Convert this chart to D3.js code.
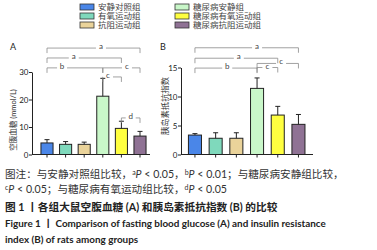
<!DOCTYPE html>
<html>
<head>
<meta charset="utf-8">
<script src="https://cdn.jsdelivr.net/npm/d3@7"></script>
<style>
body{margin:0;background:#fff;}
svg{display:block;font-family:Lato,"Noto Sans CJK SC",sans-serif;}
</style>
</head>
<body>
<svg id="chart" width="377" height="250"></svg>
<script>
// groups + colours
const groups = ["安静对照组","有氧运动组","抗阻运动组","糖尿病安静组","糖尿病有氧运动组","糖尿病抗阻运动组"];
const colors = ["#4a86e8","#7fd9bc","#ead39a","#c9f7c9","#ffff40","#8f7294"];

// A: fasting blood glucose (mmol/L)
const glucoseMean = [4.2, 3.7, 3.7, 21.2, 9.5, 6.7];
const glucoseErr  = [1.2, 1.0, 0.8, 6.5, 2.6, 1.7];
const glucoseTicks = [0, 10, 20, 30];
// B: insulin resistance index
const homaMean = [3.35, 2.8, 2.8, 11.4, 6.8, 5.2];
const homaErr  = [0.25, 0.95, 0.95, 1.8, 1.5, 1.7];
const homaTicks = [0, 5, 10, 15];

// significance brackets: [from, to, level (data units), label, label position 0..1]
const glucoseBrackets = [
    [0, 5, 38.7, "a", 0.58],
    [0, 4, 35.1, "a", 0.36],
    [0, 3, 31.5, "b", 0.27],
    [3, 5, 31.5, "c", 0.65],
    [3, 4, 28.2, "c", 0.28],
    [4, 5, 13.3, "d", 0.5]
];
const homaBrackets = [
    [0, 5, 18.4, "a", 0.6],
    [0, 4, 16.6, "a", 0.53],
    [3, 5, 15.7, "c", 0.58],
    [0, 3, 14.9, "b", 0.52],
    [3, 4, 15.0, "c", 0.5]
];

const svg = d3.select("#chart");

/* ===== legend ===== */
const legend = svg.append("g");
groups.forEach((g,i)=>{
    const col = Math.floor(i/3), row = i%3;
    const lx = col ? 175 : 80, ly = 7 + row*9;
    legend.append("rect")
        .attr("x",lx).attr("y",ly-3).attr("width",14).attr("height",6)
        .attr("fill",colors[i]).attr("stroke","#333").attr("stroke-width",0.8);
    legend.append("text")
        .attr("x",lx+18).attr("y",ly+3)
        .style("font-size","8.5px").style("fill","#444")
        .text(g);
});

/* ===== panel ===== */
function drawPanel({ letter, letterX, axisX, axisEnd, xRange, pad, yDomain, yTop, ticks, means, errs, brackets, title, titleX, titleY, titleSize }) {
    const y0 = 154.5;
    const x = d3.scaleBand().domain(d3.range(groups.length)).range(xRange)
        .paddingInner(pad).paddingOuter(pad/2);
    const y = d3.scaleLinear().domain(yDomain).range([y0, yTop]);
    const bw = x.bandwidth();
    const cx = i => x(i) + bw/2;
    const g = svg.append("g");

    g.append("text").attr("x",letterX).attr("y",50)
        .attr("text-anchor","middle")
        .style("font-size","9px").style("fill","#222")
        .text(letter);

    // y axis
    const ya = g.append("g").attr("transform",`translate(${axisX},0)`)
        .call(d3.axisLeft(y).tickValues(ticks).tickSize(3).tickSizeOuter(0));
    ya.select(".domain").attr("stroke","#222");
    ya.selectAll(".tick line").attr("stroke","#222");
    ya.selectAll(".tick text").attr("x",-3.5)
        .style("font-family","Lato, sans-serif").style("font-size","8px").style("fill","#222");

    g.append("text")
        .attr("transform",`translate(${titleX},${titleY}) rotate(-90)`)
        .attr("text-anchor","middle")
        .style("font-size",titleSize).style("fill","#333")
        .text(title);

    // x axis
    g.append("line").attr("x1",axisX).attr("x2",axisEnd).attr("y1",y0).attr("y2",y0)
        .attr("stroke","#222");
    g.selectAll(".xt").data(d3.range(groups.length)).join("line")
        .attr("x1",cx).attr("x2",cx).attr("y1",y0).attr("y2",y0+3)
        .attr("stroke","#222");

    // bars
    g.selectAll(".bar").data(means).join("rect")
        .attr("x",(d,i)=>x(i)).attr("y",d=>y(d))
        .attr("width",bw).attr("height",d=>y0-y(d))
        .attr("fill",(d,i)=>colors[i])
        .attr("stroke","#222").attr("stroke-width",1);

    // error bars
    means.forEach((m,i)=>{
        const top = y(m+errs[i]);
        g.append("line").attr("x1",cx(i)).attr("x2",cx(i)).attr("y1",y(m)).attr("y2",top)
            .attr("stroke","#222");
        g.append("line").attr("x1",cx(i)-2.5).attr("x2",cx(i)+2.5).attr("y1",top).attr("y2",top)
            .attr("stroke","#222");
    });

    // brackets
    brackets.forEach(([a,b,lvl,lab,t])=>{
        const xa = cx(a), xb = cx(b), yy = y(lvl), lx = xa + t*(xb-xa);
        const gap = 5;
        g.append("path")
            .attr("d",`M${xa},${yy+5}V${yy}H${lx-gap}M${lx+gap},${yy}H${xb}V${yy+5}`)
            .attr("fill","none").attr("stroke","#8a8a8a").attr("stroke-width",0.8);
        g.append("text").attr("x",lx).attr("y",yy+1)
            .attr("text-anchor","middle")
            .style("font-size","8px").style("fill","#444")
            .text(lab);
    });
}

drawPanel({ letter:"A", letterX:13, axisX:32, axisEnd:150, xRange:[37.7,149.3], pad:0.35,
    yDomain:[0,30], yTop:72, ticks:glucoseTicks, means:glucoseMean, errs:glucoseErr,
    brackets:glucoseBrackets, title:"空腹血糖 (mmol/L)", titleX:16, titleY:120, titleSize:"7.5px" });

drawPanel({ letter:"B", letterX:163, axisX:181, axisEnd:313, xRange:[184.6,308.8], pad:0.37,
    yDomain:[0,15], yTop:67.5, ticks:homaTicks, means:homaMean, errs:homaErr,
    brackets:homaBrackets, title:"胰岛素抵抗指数", titleX:168, titleY:106, titleSize:"8.3px" });

/* ===== notes + caption ===== */
function sup(t, s){ t.append("tspan").attr("dy",-3.5).style("font-size","7px").text(s); }
function pItalic(t){ t.append("tspan").attr("dy",3.5).style("font-style","italic").text("P"); }

const n1 = svg.append("text").attr("x",5).attr("y",178).style("font-size","10.6px").style("fill","#333");
n1.append("tspan").text("图注：与安静对照组比较，");
sup(n1,"a"); pItalic(n1); n1.append("tspan").text(" < 0.05，");
sup(n1,"b"); pItalic(n1); n1.append("tspan").text(" < 0.01；与糖尿病安静组比较，");

const n2 = svg.append("text").attr("x",5).attr("y",193).style("font-size","10.6px").style("fill","#333");
sup(n2,"c"); pItalic(n2); n2.append("tspan").text(" < 0.05；与糖尿病有氧运动组比较，");
sup(n2,"d"); pItalic(n2); n2.append("tspan").text(" < 0.05");

svg.append("text").attr("x",5).attr("y",210.5)
    .style("font-size","10.7px").style("font-weight","bold").style("fill","#222")
    .text("图 1 丨各组大鼠空腹血糖 (A) 和胰岛素抵抗指数 (B) 的比较");
svg.append("text").attr("x",5).attr("y",226.5)
    .style("font-size","9.9px").style("font-weight","bold").style("fill","#222")
    .text("Figure 1 丨 Comparison of fasting blood glucose (A) and insulin resistance");
svg.append("text").attr("x",5).attr("y",243)
    .style("font-size","9.9px").style("font-weight","bold").style("fill","#222")
    .text("index (B) of rats among groups");
</script>
</body>
</html>
